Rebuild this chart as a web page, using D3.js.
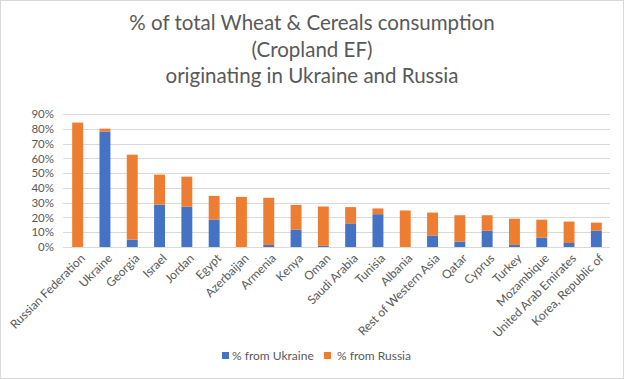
<!DOCTYPE html>
<html>
<head>
<meta charset="utf-8">
<script src="https://d3js.org/d3.v7.min.js"></script>
<style>
  body { margin: 0; background: #fff; }
  svg { display: block; font-family: Lato, 'Open Sans', sans-serif; }
</style>
</head>
<body>
<div id="chart"></div>
<script>
// --- data ---
const countries = [
  "Russian Federation", "Ukraine", "Georgia", "Israel", "Jordan", "Egypt",
  "Azerbaijan", "Armenia", "Kenya", "Oman", "Saudi Arabia", "Tunisia",
  "Albania", "Rest of Western Asia", "Qatar", "Cyprus", "Turkey",
  "Mozambique", "United Arab Emirates", "Korea, Republic of"
];
const fromUkraine = [0, 78.1, 5.0, 28.7, 27.3, 18.6, 0, 1.4, 11.8, 0.8, 16.0, 22.2, 0, 7.8, 3.7, 11.0, 1.4, 6.4, 2.7, 11.0];
const fromRussia  = [84.2, 2.0, 57.5, 20.3, 20.3, 16.0, 33.9, 31.9, 16.7, 26.6, 11.0, 3.9, 24.7, 15.5, 17.8, 10.5, 17.8, 12.1, 14.5, 5.5];
const yTicks = [0, 10, 20, 30, 40, 50, 60, 70, 80, 90];
const seriesNames = ["% from Ukraine", "% from Russia"];
const seriesColors = ["#4472C4", "#ED7D31"];
const titleLines = ["% of total Wheat & Cereals consumption", "(Cropland EF)", "originating in Ukraine and Russia"];

const W = 624, H = 379;
const textColor = "#595959";
const gridColor = "#d9d9d9";

const svg = d3.select("#chart").append("svg").attr("width", W).attr("height", H);

// chart area border
svg.append("rect")
  .attr("x", 0.5).attr("y", 0.5).attr("width", W - 1).attr("height", H - 1)
  .attr("fill", "#fff").attr("stroke", gridColor);

// title
svg.append("g").selectAll("text")
  .data(titleLines)
  .join("text")
  .attr("x", 312)
  .attr("y", (d, i) => 30 + i * 26.5)
  .attr("text-anchor", "middle")
  .attr("fill", textColor)
  .style("font-size", "20.5px")
  .text(d => d);

const plot = { left: 64, right: 610, top: 114, bottom: 247 };

const x = d3.scaleBand()
  .domain(countries)
  .range([plot.left, plot.right])
  .paddingInner(0.6)
  .paddingOuter(0.3);

const y = d3.scaleLinear().domain([0, 90]).range([plot.bottom, plot.top]);

// gridlines
svg.append("g").selectAll("line")
  .data(yTicks)
  .join("line")
  .attr("x1", 63).attr("x2", plot.right)
  .attr("y1", d => Math.round(y(d)) + 0.5).attr("y2", d => Math.round(y(d)) + 0.5)
  .attr("stroke", gridColor).attr("stroke-width", 1);

// y axis labels
const yAxis = svg.append("g")
  .attr("transform", `translate(${plot.left - 10},0)`)
  .call(d3.axisLeft(y).tickValues(yTicks).tickFormat(d => d + "%").tickSize(0).tickPadding(0));
yAxis.select(".domain").remove();
yAxis.selectAll("text").attr("fill", textColor).style("font-size", "11.5px").style("font-family", "Lato, 'Open Sans', sans-serif");

// stacked bars
const rows = countries.map((c, i) => ({ country: c, ukr: fromUkraine[i], rus: fromRussia[i] }));
const stack = d3.stack().keys(["ukr", "rus"])(rows);

svg.append("g").selectAll("g")
  .data(stack)
  .join("g")
  .attr("fill", (d, i) => seriesColors[i])
  .selectAll("rect")
  .data(d => d)
  .join("rect")
  .attr("x", d => x(d.data.country))
  .attr("width", x.bandwidth())
  .attr("y", d => y(d[1]))
  .attr("height", d => y(d[0]) - y(d[1]));

// x axis line
svg.append("line")
  .attr("x1", 63).attr("x2", plot.right)
  .attr("y1", plot.bottom + 0.5).attr("y2", plot.bottom + 0.5)
  .attr("stroke", gridColor);

// x labels, rotated
svg.append("g").selectAll("text")
  .data(countries)
  .join("text")
  .attr("transform", d => `translate(${x(d) + x.bandwidth() / 2 + 5},${plot.bottom + 9}) rotate(-45)`)
  .attr("text-anchor", "end")
  .attr("dy", "0.35em")
  .attr("fill", textColor)
  .style("font-size", "12px")
  .text(d => d);

// legend
const legendX = [222, 324];
const legend = svg.append("g").selectAll("g")
  .data(seriesNames)
  .join("g")
  .attr("transform", (d, i) => `translate(${legendX[i]},352)`);
legend.append("rect")
  .attr("width", 7).attr("height", 7)
  .attr("fill", (d, i) => seriesColors[i]);
legend.append("text")
  .attr("x", (d, i) => i === 0 ? 10 : 13).attr("y", 3.5).attr("dy", "0.35em")
  .attr("fill", textColor)
  .style("font-size", "12px")
  .text(d => d);
</script>
</body>
</html>
